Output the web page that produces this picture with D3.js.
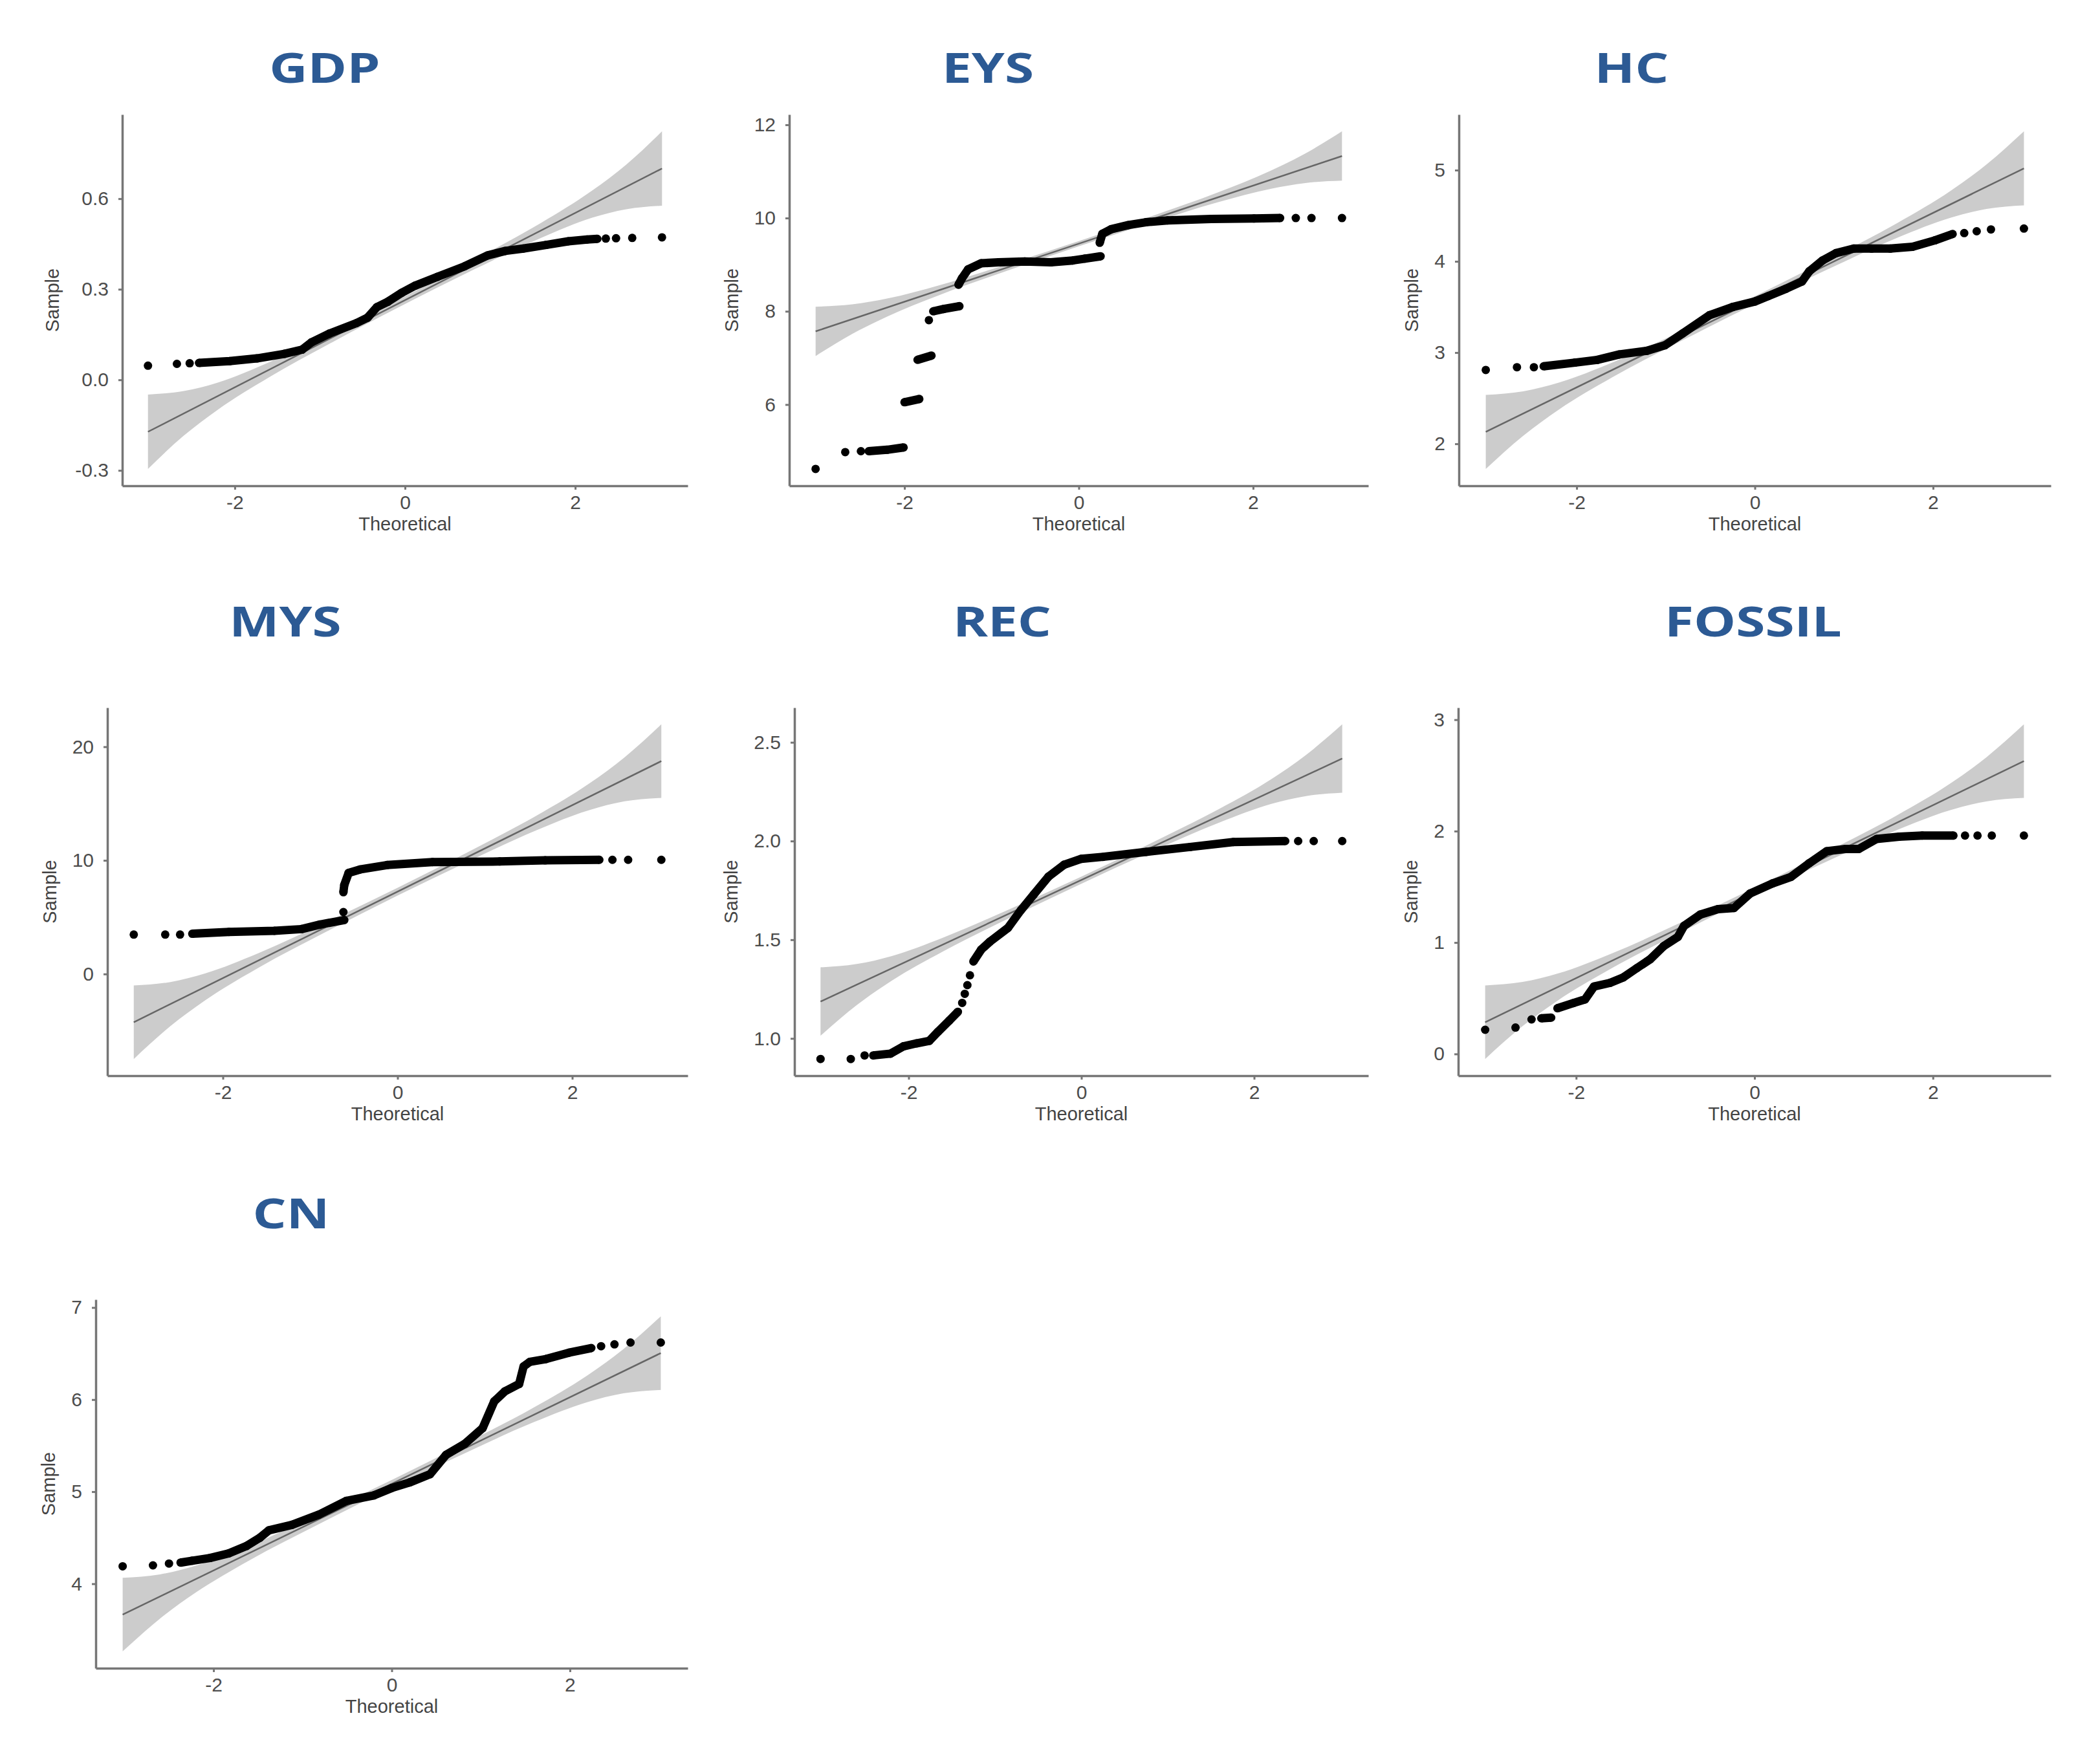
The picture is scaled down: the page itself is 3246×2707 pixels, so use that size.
<!DOCTYPE html>
<html>
<head>
<meta charset="utf-8">
<script src="https://cdn.jsdelivr.net/npm/d3@7/dist/d3.min.js"></script>
<style>
body { margin: 0; background: #fff; }
</style>
</head>
<body>
<script>
var bandT = [-3.02, -2.6, -2.2, -1.6, -0.8, 0, 0.8, 1.6, 2.2, 2.6, 3.02];
var lineT = [-3.02, 3.02];
var xTicks = [-2, 0, 2];

// sample quantiles, [theoretical, sample]; null = gap between runs of points
var gdpPoints = [[-3.02,0.047], null, [-2.68,0.053], null, [-2.53,0.055], null,
  [-2.42,0.056],[-2.06,0.062],[-1.74,0.071],[-1.42,0.086],[-1.21,0.10],[-1.10,0.124],[-0.89,0.153],
  [-0.57,0.188],[-0.44,0.206],[-0.33,0.241],[-0.20,0.259],[-0.04,0.288],[0.12,0.312],[0.38,0.341],
  [0.70,0.376],[0.97,0.412],[1.18,0.427],[1.39,0.435],[1.66,0.447],[1.92,0.459],[2.14,0.465],[2.26,0.467], null,
  [2.36,0.468], null, [2.48,0.469], null, [2.67,0.470], null, [3.02,0.472]];
var gdpLine = [-0.172, 0.700];
var gdpBandLo = [-0.295, -0.185, -0.099, 0.008, 0.133, 0.251, 0.364, 0.470, 0.537, 0.565, 0.577];
var gdpBandHi = [-0.049, -0.037, -0.009, 0.058, 0.165, 0.277, 0.396, 0.520, 0.627, 0.713, 0.823];
var gdpTicks = [-0.3, 0, 0.3, 0.6];

var eysPoints = [[-3.02,4.62], null, [-2.68,4.98], null, [-2.50,5.0], null,
  [-2.41,5.0],[-2.2,5.03],[-2.01,5.08], null,
  [-2.0,6.05],[-1.83,6.12], null,
  [-1.85,6.96],[-1.69,7.05], null,
  [-1.72,7.81], null,
  [-1.67,8.0],[-1.55,8.05],[-1.37,8.11], null,
  [-1.38,8.57],[-1.34,8.71],[-1.27,8.90],[-1.12,9.03],[-0.92,9.05],[-0.62,9.07],[-0.32,9.05],[-0.07,9.09],[0.07,9.13],[0.25,9.18], null,
  [0.24,9.47],[0.27,9.66],[0.37,9.76],[0.57,9.85],[0.77,9.91],[1.02,9.95],[1.52,9.98],[2.01,9.99],[2.31,10.0], null,
  [2.49,10.0], null, [2.67,10.0], null, [3.02,10.0]];
var eysLine = [7.570, 11.330];
var eysBandLo = [7.041, 7.514, 7.887, 8.348, 8.884, 9.394, 9.880, 10.340, 10.627, 10.752, 10.801];
var eysBandHi = [8.099, 8.148, 8.273, 8.560, 9.020, 9.506, 10.016, 10.552, 11.013, 11.386, 11.859];
var eysTicks = [6, 8, 10, 12];

var hcPoints = [[-3.02,2.81], null, [-2.67,2.84], null, [-2.48,2.84], null,
  [-2.37,2.85],[-2.02,2.89],[-1.77,2.92],[-1.52,2.98],[-1.21,3.02],[-1.01,3.08],[-0.81,3.21],[-0.51,3.41],
  [-0.25,3.50],[0,3.56],[0.15,3.62],[0.35,3.70],[0.53,3.78],[0.61,3.89],[0.76,4.01],[0.91,4.09],[1.11,4.14],
  [1.31,4.14],[1.52,4.14],[1.77,4.16],[2.02,4.23],[2.22,4.30], null,
  [2.35,4.31], null, [2.49,4.33], null, [2.65,4.35], null, [3.02,4.36]];
var hcLine = [2.131, 5.019];
var hcBandLo = [1.725, 2.088, 2.375, 2.729, 3.140, 3.532, 3.904, 4.259, 4.479, 4.574, 4.613];
var hcBandHi = [2.537, 2.576, 2.671, 2.891, 3.246, 3.618, 4.010, 4.421, 4.775, 5.062, 5.425];
var hcTicks = [2, 3, 4, 5];

var mysPoints = [[-3.02,3.47], null, [-2.66,3.47], null, [-2.49,3.47], null,
  [-2.35,3.54],[-1.93,3.70],[-1.41,3.80],[-1.10,3.95],[-0.89,4.35],[-0.61,4.75], null,
  [-0.62,5.45], null,
  [-0.62,7.2],[-0.61,7.83],[-0.56,8.9],[-0.43,9.2],[-0.12,9.59],[0.40,9.85],[1.17,9.9],[1.69,10.0],[2.31,10.05], null,
  [2.46,10.05], null, [2.64,10.05], null, [3.02,10.05]];
var mysLine = [-4.246, 18.736];
var mysBandLo = [-7.480, -4.589, -2.306, 0.510, 3.782, 6.903, 9.870, 12.686, 14.436, 15.197, 15.502];
var mysBandHi = [-1.012, -0.707, 0.054, 1.804, 4.620, 7.587, 10.708, 13.980, 16.796, 19.079, 21.970];
var mysTicks = [0, 10, 20];

var recPoints = [[-3.02,0.896], null, [-2.67,0.896], null, [-2.51,0.914], null,
  [-2.41,0.914],[-2.21,0.923],[-2.06,0.96],[-1.91,0.975],[-1.76,0.988],[-1.66,1.034],[-1.53,1.09],[-1.43,1.135], null,
  [-1.38,1.18], null, [-1.35,1.226], null, [-1.32,1.27], null, [-1.29,1.32], null,
  [-1.25,1.39],[-1.16,1.45],[-1.06,1.49],[-0.85,1.56],[-0.70,1.65],[-0.55,1.73],[-0.38,1.82],[-0.20,1.88],
  [0,1.91],[0.25,1.92],[0.75,1.945],[1.26,1.97],[1.76,1.995],[2.36,2.0], null,
  [2.51,2.0], null, [2.69,2.0], null, [3.02,2.0]];
var recLine = [1.187, 2.418];
var recBandLo = [1.014, 1.169, 1.291, 1.441, 1.617, 1.784, 1.944, 2.094, 2.188, 2.228, 2.245];
var recBandHi = [1.360, 1.377, 1.417, 1.511, 1.661, 1.820, 1.988, 2.164, 2.314, 2.436, 2.591];
var recTicks = [1.0, 1.5, 2.0, 2.5];

var fossilPoints = [[-3.02,0.217], null, [-2.68,0.237], null, [-2.50,0.31], null,
  [-2.39,0.32],[-2.28,0.326], null,
  [-2.21,0.41],[-2.03,0.457],[-1.90,0.49],[-1.80,0.605],[-1.62,0.638],[-1.47,0.688],[-1.32,0.77],[-1.17,0.85],
  [-1.02,0.967],[-0.86,1.05],[-0.79,1.15],[-0.61,1.25],[-0.41,1.30],[-0.23,1.31],[-0.05,1.44],[0.20,1.53],
  [0.41,1.59],[0.61,1.71],[0.81,1.82],[1.02,1.84],[1.17,1.84],[1.37,1.93],[1.62,1.95],[1.88,1.96],[2.23,1.96], null,
  [2.36,1.96], null, [2.50,1.96], null, [2.66,1.96], null, [3.02,1.96]];
var fossilLine = [0.285, 2.628];
var fossilBandLo = [-0.045, 0.250, 0.483, 0.770, 1.103, 1.422, 1.724, 2.011, 2.190, 2.267, 2.298];
var fossilBandHi = [0.615, 0.646, 0.723, 0.902, 1.189, 1.492, 1.810, 2.143, 2.430, 2.663, 2.958];
var fossilTicks = [0, 1, 2, 3];

var cnPoints = [[-3.02,4.19], null, [-2.68,4.20], null, [-2.50,4.22], null,
  [-2.37,4.23],[-2.24,4.25],[-2.04,4.28],[-1.83,4.33],[-1.63,4.41],[-1.48,4.50],[-1.38,4.58],[-1.12,4.64],
  [-0.82,4.75],[-0.51,4.90],[-0.20,4.96],[0,5.04],[0.20,5.10],[0.43,5.19],[0.61,5.40],[0.82,5.52],[1.02,5.69],
  [1.15,5.98],[1.27,6.09],[1.43,6.17],[1.48,6.36],[1.55,6.41],[1.73,6.44],[1.99,6.51],[2.24,6.56], null,
  [2.35,6.58], null, [2.50,6.60], null, [2.68,6.62], null, [3.02,6.62]];
var cnLine = [3.665, 6.505];
var cnBandLo = [3.265, 3.622, 3.904, 4.253, 4.657, 5.043, 5.409, 5.757, 5.974, 6.068, 6.105];
var cnBandHi = [4.065, 4.102, 4.196, 4.413, 4.761, 5.127, 5.513, 5.917, 6.266, 6.548, 6.905];
var cnTicks = [4, 5, 6, 7];

var panels = [
  {title: "GDP",    pts: gdpPoints,    line: gdpLine,    lo: gdpBandLo,    hi: gdpBandHi,    ticks: gdpTicks,    fmt: ".1f"},
  {title: "EYS",    pts: eysPoints,    line: eysLine,    lo: eysBandLo,    hi: eysBandHi,    ticks: eysTicks,    fmt: "d"},
  {title: "HC",     pts: hcPoints,     line: hcLine,     lo: hcBandLo,     hi: hcBandHi,     ticks: hcTicks,     fmt: "d"},
  {title: "MYS",    pts: mysPoints,    line: mysLine,    lo: mysBandLo,    hi: mysBandHi,    ticks: mysTicks,    fmt: "d"},
  {title: "REC",    pts: recPoints,    line: recLine,    lo: recBandLo,    hi: recBandHi,    ticks: recTicks,    fmt: ".1f"},
  {title: "FOSSIL", pts: fossilPoints, line: fossilLine, lo: fossilBandLo, hi: fossilBandHi, ticks: fossilTicks, fmt: "d"},
  {title: "CN",     pts: cnPoints,     line: cnLine,     lo: cnBandLo,     hi: cnBandHi,     ticks: cnTicks,     fmt: "d"}
];

// where each panel sits on the page (axis box + title anchor)
var layout = [
  {x0: 189,  x1: 1063, y0: 177,  y1: 751,  tx: 502,  ty: 128},
  {x0: 1220, x1: 2115, y0: 177,  y1: 751,  tx: 1527, ty: 128},
  {x0: 2255, x1: 3170, y0: 177,  y1: 751,  tx: 2522, ty: 128},
  {x0: 166,  x1: 1063, y0: 1094, y1: 1663, tx: 441,  ty: 984},
  {x0: 1228, x1: 2115, y0: 1094, y1: 1663, tx: 1549, ty: 984},
  {x0: 2254, x1: 3170, y0: 1094, y1: 1663, tx: 2710, ty: 984},
  {x0: 148,  x1: 1063, y0: 2009, y1: 2579, tx: 450,  ty: 1899}
];

var svg = d3.select("body")
            .append("svg")
            .attr("width", 3246)
            .attr("height", 2707)
            .style("background", "#fff");

var axisColor = "#767676";
var tickFont = "'Liberation Sans', Arial, sans-serif";
// plain hyphen for negatives, like R does
var locale = d3.formatLocale({decimal: ".", thousands: ",", grouping: [3], currency: ["", ""], minus: "-"});

function expand(ext) {
  var pad = (ext[1] - ext[0]) * 0.05;
  return [ext[0] - pad, ext[1] + pad];
}

panels.forEach(function(p, i) {
  var L = layout[i];
  var pts = p.pts.filter(function(d) { return d !== null; });

  var xs = pts.map(function(d) { return d[0]; }).concat(bandT);
  var ys = pts.map(function(d) { return d[1]; }).concat(p.lo, p.hi);

  var x = d3.scaleLinear().domain(expand(d3.extent(xs))).range([L.x0, L.x1]);
  var y = d3.scaleLinear().domain(expand(d3.extent(ys))).range([L.y1, L.y0]);

  var g = svg.append("g");

  // confidence band
  var band = bandT.map(function(t, k) { return {t: t, lo: p.lo[k], hi: p.hi[k]}; });
  g.append("path")
    .datum(band)
    .attr("fill", "#cccccc")
    .attr("d", d3.area()
      .curve(d3.curveMonotoneX)
      .x(function(d) { return x(d.t); })
      .y0(function(d) { return y(d.lo); })
      .y1(function(d) { return y(d.hi); }));

  // reference line
  g.append("path")
    .datum(lineT.map(function(t, k) { return [t, p.line[k]]; }))
    .attr("fill", "none")
    .attr("stroke", "#666")
    .attr("stroke-width", 2.5)
    .attr("d", d3.line().x(function(d) { return x(d[0]); }).y(function(d) { return y(d[1]); }));

  // dense runs of points drawn as a thick stroke, then every point as a dot
  g.append("path")
    .datum(p.pts)
    .attr("fill", "none")
    .attr("stroke", "#000")
    .attr("stroke-width", 13)
    .attr("stroke-linejoin", "round")
    .attr("d", d3.line()
      .defined(function(d) { return d !== null; })
      .x(function(d) { return x(d[0]); })
      .y(function(d) { return y(d[1]); }));

  g.selectAll("circle")
    .data(pts)
    .enter()
    .append("circle")
    .attr("cx", function(d) { return x(d[0]); })
    .attr("cy", function(d) { return y(d[1]); })
    .attr("r", 6.5)
    .attr("fill", "#000");

  // axes
  var yAxis = g.append("g")
    .attr("transform", "translate(" + L.x0 + ",0)")
    .call(d3.axisLeft(y).tickValues(p.ticks).tickFormat(locale.format(p.fmt))
      .tickSize(6).tickSizeOuter(0).tickPadding(15));
  var xAxis = g.append("g")
    .attr("transform", "translate(0," + L.y1 + ")")
    .call(d3.axisBottom(x).tickValues(xTicks).tickFormat(locale.format("d"))
      .tickSize(6).tickSizeOuter(0).tickPadding(9));

  [yAxis, xAxis].forEach(function(a) {
    a.attr("font-size", 30).attr("font-family", tickFont);
    a.select(".domain").attr("stroke", axisColor).attr("stroke-width", 3.5);
    a.selectAll(".tick line").attr("stroke", axisColor).attr("stroke-width", 3);
    a.selectAll(".tick text").attr("fill", "#4d4d4d");
  });

  // axis titles
  g.append("text")
    .attr("x", (L.x0 + L.x1) / 2)
    .attr("y", L.y1 + 69)
    .attr("text-anchor", "middle")
    .attr("font-family", tickFont)
    .attr("font-size", 29)
    .attr("fill", "#444")
    .text("Theoretical");

  // bbox is in the axis group's own coordinates, so add its offset
  var left = L.x0 + yAxis.node().getBBox().x;
  g.append("text")
    .attr("transform", "translate(" + (left - 25) + "," + ((L.y0 + L.y1) / 2) + ") rotate(-90)")
    .attr("text-anchor", "middle")
    .attr("font-family", tickFont)
    .attr("font-size", 29)
    .attr("fill", "#444")
    .text("Sample");

  // panel title
  g.append("text")
    .attr("transform", "translate(" + L.tx + "," + L.ty + ") scale(1.28,1)")
    .attr("text-anchor", "middle")
    .attr("font-family", "'Open Sans', 'Noto Sans', sans-serif")
    .attr("font-weight", 700)
    .attr("font-size", 64)
    .attr("fill", "#2c5a94")
    .text(p.title);
});
</script>
</body>
</html>
